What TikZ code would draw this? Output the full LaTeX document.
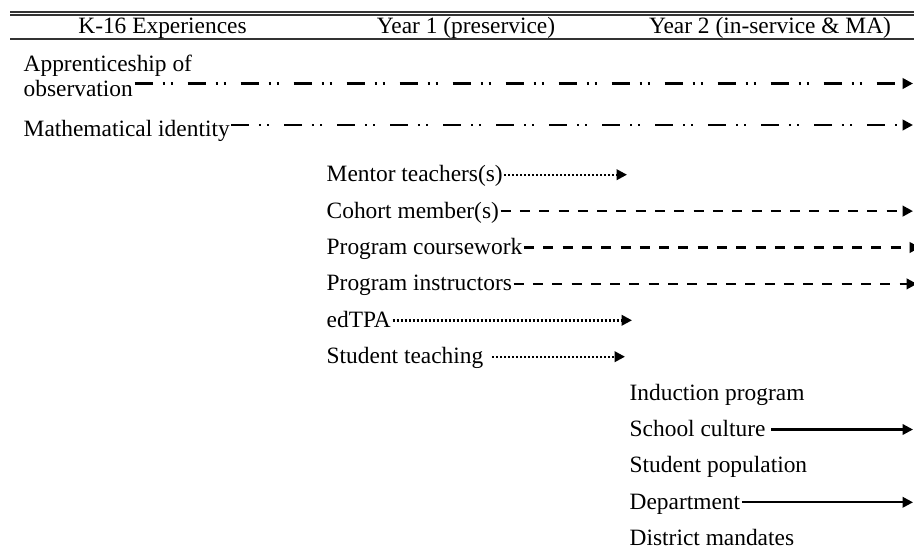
\documentclass[tikz,border=0pt]{standalone}
\usepackage{fontspec}
\setmainfont{Liberation Serif}
\usetikzlibrary{arrows.meta}

\tikzset{
  lbl/.style={anchor=west, inner sep=1.5pt, text height=14pt, text depth=0pt},
  hdr/.style={anchor=base, inner sep=0pt},
  tip/.style={-{Triangle[length=10.5pt,width=10.5pt]}},
  dashdotdot/.style={tip, line width=2.6pt,
    dash pattern=on 18pt off 10pt on 2pt off 6pt on 2pt off 15pt},
  dashline/.style={tip, line width=2.6pt, dash pattern=on 10pt off 9.3pt},
  dotline/.style={tip, line width=2.4pt, dash pattern=on 2pt off 2pt},
  solidline/.style={tip, line width=2.3pt},
}

\begin{document}
\begin{tikzpicture}[x=1pt, y=-1pt, font=\fontsize{23.4pt}{28pt}\selectfont]
  \useasboundingbox[fill=white] (0,0) rectangle (914,557);

  % where the labels start
  \coordinate (app)     at (22,64);
  \coordinate (obs)     at (22,89.5);
  \coordinate (math)    at (22,129.7);
  \coordinate (mentor)  at (325,174.7);
  \coordinate (cohort)  at (325,211.1);
  \coordinate (course)  at (325,247.5);
  \coordinate (instr)   at (325,283.9);
  \coordinate (edtpa)   at (325,320.3);
  \coordinate (stuteach) at (325,356.7);
  \coordinate (induct)  at (628,393.1);
  \coordinate (culture) at (628,429.5);
  \coordinate (stupop)  at (628,465.9);
  \coordinate (dept)    at (628,502.3);
  \coordinate (district) at (628,538.7);

  % where the arrows stop
  \coordinate (obs-end)     at (913,83.5);
  \coordinate (math-end)    at (913,125);
  \coordinate (mentor-end)  at (627,174.7);
  \coordinate (cohort-end)  at (913,211.1);
  \coordinate (course-end)  at (920,247.5);
  \coordinate (instr-end)   at (917,283.9);
  \coordinate (edtpa-end)   at (632,320.3);
  \coordinate (stuteach-end) at (625,356.7);
  \coordinate (culture-end) at (913,429.5);
  \coordinate (dept-end)    at (913,502.3);

  % table rules
  \draw[line width=1.8pt, black!80] (10,12.3) -- (914,12.3);
  \draw[line width=1.1pt, black!80] (10,15) -- (914,15);
  \draw[line width=1.5pt, black!80] (10,38.8) -- (914,38.8);

  \node [hdr] (h-k16) at (162.5,33.5) {K-16 Experiences};
  \node [hdr] (h-yr1) at (466,33.5) {Year 1 (preservice)};
  \node [hdr] (h-yr2) at (770,33.5) {Year 2 (in-service \& MA)};

  \node [lbl] (n-app)      at (app)      {Apprenticeship of};
  \node [lbl] (n-obs)      at (obs)      {observation};
  \node [lbl] (n-math)     at (math)     {Mathematical identity};
  \node [lbl] (n-mentor)   at (mentor)   {Mentor teachers(s)};
  \node [lbl] (n-cohort)   at (cohort)   {Cohort member(s)};
  \node [lbl] (n-course)   at (course)   {Program coursework};
  \node [lbl] (n-instr)    at (instr)    {Program instructors};
  \node [lbl] (n-edtpa)    at (edtpa)    {edTPA};
  \node [lbl] (n-stuteach) at (stuteach) {Student teaching};
  \node [lbl] (n-induct)   at (induct)   {Induction program};
  \node [lbl] (n-culture)  at (culture)  {School culture};
  \node [lbl] (n-stupop)   at (stupop)   {Student population};
  \node [lbl] (n-dept)     at (dept)     {Department};
  \node [lbl] (n-district) at (district) {District mandates};

  \draw[dashdotdot] (n-obs.east |- obs-end) -- (obs-end);
  \draw[dashdotdot] (n-math.east |- math-end) -- (math-end);

  \draw[dotline]   (n-mentor) -- (mentor-end);
  \draw[dashline]  (n-cohort) -- (cohort-end);
  \draw[dashline]  (n-course) -- (course-end);
  \draw[dashline]  (n-instr) -- (instr-end);
  \draw[dotline]   (n-edtpa) -- (edtpa-end);
  \draw[dotline, shorten <=7pt] (n-stuteach) -- (stuteach-end);

  \draw[solidline, shorten <=4pt] (n-culture) -- (culture-end);
  \draw[solidline] (n-dept) -- (dept-end);
\end{tikzpicture}
\end{document}
